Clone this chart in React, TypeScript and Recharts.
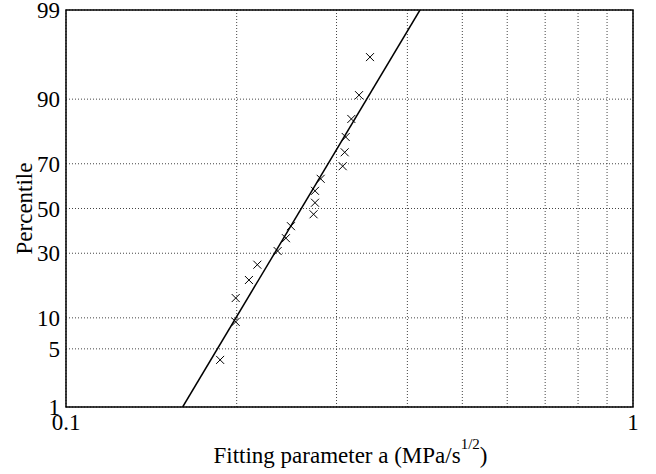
import React from "react";
import {
  CartesianGrid,
  ReferenceArea,
  Scatter,
  ScatterChart,
  XAxis,
  YAxis,
} from "recharts";

// fitting parameter a (MPa/s^1/2) and its plotting percentile
const paramValues = [
  0.187, 0.1992, 0.1992, 0.2102, 0.2175, 0.2362, 0.2443, 0.2493, 0.2733,
  0.2749, 0.2749, 0.2813, 0.3076, 0.3101, 0.3114, 0.3186, 0.3287, 0.3437,
];
const percentiles = [
  3.8, 9.2, 14.7, 20.1, 25.5, 30.9, 36.4, 41.8, 47.3, 52.7, 58.2, 63.6, 69.0,
  74.5, 79.9, 85.3, 90.8, 96.2,
];

// fitted lognormal line, end points at the axis limits
const fitParam = [0.1606, 0.421];
const fitPercentile = [1, 99];

const yTickLabels = [1, 5, 10, 30, 50, 70, 90, 99];
const xTicks = [0.1, 0.2, 0.3, 0.4, 0.5, 0.6, 0.7, 0.8, 0.9, 1];
const xTickLabels = [0.1, 1];

const FONT = "'Liberation Serif', 'Times New Roman', serif";
const FS = 23;

// inverse of the standard normal CDF (Acklam)
function probit(p: number): number {
  const a = [-39.69683028665376, 220.9460984245205, -275.9285104469687, 138.357751867269, -30.66479806614716, 2.506628277459239];
  const b = [-54.47609879822406, 161.5858368580409, -155.6989798598866, 66.80131188771972, -13.28068155288572];
  const c = [-0.007784894002430293, -0.3223964580411365, -2.400758277161838, -2.549732539343734, 4.374664141464968, 2.938163982698783];
  const d = [0.007784695709041462, 0.3224671290700398, 2.445134137142996, 3.754408661907416];
  const pl = 0.02425;
  let q: number, r: number;
  if (p < pl) {
    q = Math.sqrt(-2 * Math.log(p));
    return (((((c[0] * q + c[1]) * q + c[2]) * q + c[3]) * q + c[4]) * q + c[5]) /
      ((((d[0] * q + d[1]) * q + d[2]) * q + d[3]) * q + 1);
  }
  if (p > 1 - pl) {
    q = Math.sqrt(-2 * Math.log(1 - p));
    return -(((((c[0] * q + c[1]) * q + c[2]) * q + c[3]) * q + c[4]) * q + c[5]) /
      ((((d[0] * q + d[1]) * q + d[2]) * q + d[3]) * q + 1);
  }
  q = p - 0.5;
  r = q * q;
  return ((((((a[0] * r + a[1]) * r + a[2]) * r + a[3]) * r + a[4]) * r + a[5]) * q) /
    (((((b[0] * r + b[1]) * r + b[2]) * r + b[3]) * r + b[4]) * r + 1);
}

const points = paramValues.map((x, i) => ({ x, z: probit(percentiles[i] / 100) }));
const fitLine = fitParam.map((x, i) => ({ x, z: probit(fitPercentile[i] / 100) }));
const yTicks = yTickLabels.map((p) => probit(p / 100));
const zMin = probit(0.01);
const zMax = probit(0.99);

const Cross = (props: any) => {
  const { cx, cy } = props;
  const s = 4;
  return (
    <path
      d={`M${cx - s},${cy - s}L${cx + s},${cy + s}M${cx - s},${cy + s}L${cx + s},${cy - s}`}
      stroke="#000"
      strokeWidth={1}
      fill="none"
    />
  );
};

const XLabel = (props: any) => {
  const { x, y, width } = props.viewBox;
  return (
    <text
      x={x + width / 2 + 1}
      y={y + 56}
      textAnchor="middle"
      fontFamily={FONT}
      fontSize={FS}
      fill="#000"
    >
      Fitting parameter a (MPa/s
      <tspan dy={-14} fontSize={15}>1/2</tspan>
      <tspan dy={14}>)</tspan>
    </text>
  );
};

const YLabel = (props: any) => {
  const { y, height } = props.viewBox;
  const cx = 24;
  const cy = y + height / 2;
  return (
    <text
      x={cx}
      y={cy}
      transform={`rotate(-90, ${cx}, ${cy})`}
      textAnchor="middle"
      dominantBaseline="central"
      fontFamily={FONT}
      fontSize={FS}
      fill="#000"
    >
      Percentile
    </text>
  );
};

export default function App() {
  return (
    <div style={{ position: "absolute", left: 0, top: 0, background: "#fff" }}>
      <ScatterChart
        width={656}
        height={474}
        margin={{ top: 10, right: 23, bottom: 0, left: 6 }}
      >
        <CartesianGrid stroke="#444" strokeDasharray="1 2" />
        <XAxis
          type="number"
          dataKey="x"
          scale="log"
          domain={[0.1, 1]}
          ticks={xTicks}
          allowDataOverflow
          height={67}
          axisLine={false}
          tickLine={false}
          tickSize={6}
          tickMargin={1}
          interval={0}
          tickFormatter={(v: number) =>
            xTickLabels.some((t) => Math.abs(t - v) < 1e-9) ? String(v) : ""
          }
          tick={{ fill: "#000", fontFamily: FONT, fontSize: FS }}
          label={{ content: XLabel }}
        />
        <YAxis
          type="number"
          dataKey="z"
          domain={[zMin, zMax]}
          ticks={yTicks}
          allowDataOverflow
          width={60}
          axisLine={false}
          tickLine={false}
          tickSize={0}
          tickMargin={6}
          interval={0}
          tickFormatter={(v: number) => {
            const i = yTicks.findIndex((t) => Math.abs(t - v) < 1e-6);
            return i >= 0 ? String(yTickLabels[i]) : "";
          }}
          tick={{ fill: "#000", fontFamily: FONT, fontSize: FS }}
          label={{ content: YLabel }}
        />
        <ReferenceArea
          x1={0.1}
          x2={1}
          y1={zMin}
          y2={zMax}
          fill="none"
          stroke="#000"
          strokeWidth={1.5}
          fillOpacity={0}
        />
        <Scatter
          data={fitLine}
          line={{ stroke: "#000", strokeWidth: 1.5 }}
          shape={() => null}
          isAnimationActive={false}
        />
        <Scatter data={points} shape={Cross} isAnimationActive={false} />
      </ScatterChart>
    </div>
  );
}
